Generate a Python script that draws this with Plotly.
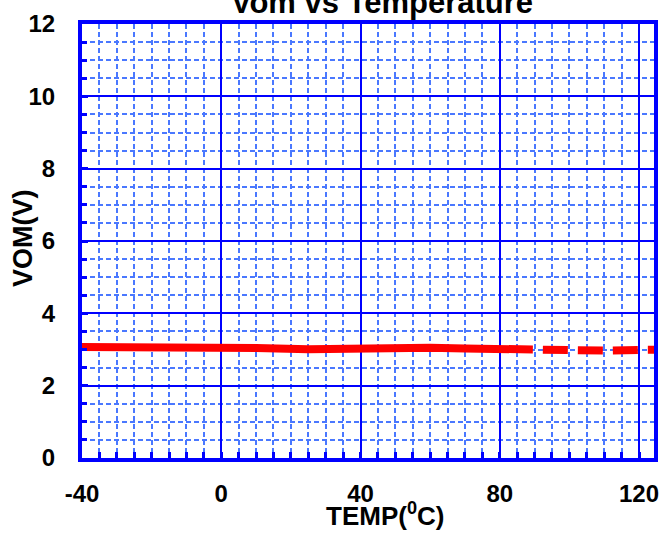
import plotly.graph_objects as go

# Data
temp_solid = [-40, -20, 0, 10, 25, 40, 50, 60, 70, 80, 89.5]
vom_solid = [3.07, 3.07, 3.06, 3.04, 3.01, 3.04, 3.06, 3.05, 3.03, 3.01, 3.00]
temp_dash = [89.5, 100, 110, 120, 124.3]
vom_dash = [3.00, 2.97, 2.97, 2.99, 2.99]

x_ticks = [-40, 0, 40, 80, 120]
x_tick_text = ["-40", "0", "40", "80", "120"]
y_ticks = [0, 2, 4, 6, 8, 10, 12]
y_tick_text = ["0", "2", "4", "6", "8", "10", "12"]

title_text = "Vom vs Temperature"
x_title = "TEMP(<sup>0</sup>C)"
y_title = "VOM(V)"

FONT = "Liberation Sans, Arial, sans-serif"
BLUE = "#0000ff"
MINOR = "#4a78ff"

fig = go.Figure()
fig.add_trace(go.Scatter(x=temp_solid, y=vom_solid, mode="lines",
                         line=dict(color="#ff0000", width=8), showlegend=False))
fig.add_trace(go.Scatter(x=temp_dash, y=vom_dash, mode="lines",
                         line=dict(color="#ff0000", width=8,
                                   dash="0px,10px,25px,0px"),
                         showlegend=False))

axis_common = dict(
    showline=True, linecolor=BLUE, linewidth=4, mirror=True,
    showgrid=True, gridcolor=BLUE, gridwidth=2, zeroline=False,
    ticks="inside", ticklen=6, tickwidth=3, tickcolor=BLUE,
    tickfont=dict(family=FONT, size=24, color="black", weight="bold"),
)

fig.update_xaxes(range=[-40, 124.3], tickvals=x_ticks, ticktext=x_tick_text,
                 ticklabelstandoff=11,
                 minor=dict(dtick=5, tick0=-40, showgrid=True, gridcolor=MINOR,
                            griddash="5px,3px", gridwidth=1.5, ticks="inside",
                            ticklen=6, tickwidth=3, tickcolor=BLUE),
                 **axis_common)
fig.update_yaxes(range=[0, 12], tickvals=y_ticks, ticktext=y_tick_text,
                 ticklabelstandoff=18,
                 minor=dict(dtick=0.5, tick0=0, showgrid=True, gridcolor=MINOR,
                            griddash="5px,3px", gridwidth=1.5, ticks="inside",
                            ticklen=5, tickwidth=3, tickcolor=BLUE),
                 **axis_common)

fig.add_annotation(text=title_text, xref="paper", yref="paper",
                   x=(385 - 82) / 577, y=(458 + 3) / 439, xanchor="center",
                   yanchor="middle", showarrow=False,
                   font=dict(family=FONT, size=31, color="black", weight="bold"))
fig.add_annotation(text=x_title, xref="paper", yref="paper",
                   x=(388 - 82) / 577, y=(458 - 515) / 439, xanchor="center",
                   yanchor="middle", showarrow=False,
                   font=dict(family=FONT, size=26, color="black", weight="bold"))
fig.add_annotation(text=y_title, xref="paper", yref="paper",
                   x=(22 - 82) / 577, y=(458 - 236) / 439, xanchor="center",
                   yanchor="middle", textangle=-90, showarrow=False,
                   font=dict(family=FONT, size=27, color="black", weight="bold"))

fig.update_layout(
    width=669, height=533,
    margin=dict(l=82, r=10, t=19, b=75),
    paper_bgcolor="white", plot_bgcolor="white",
)

fig.write_html("out.html")
